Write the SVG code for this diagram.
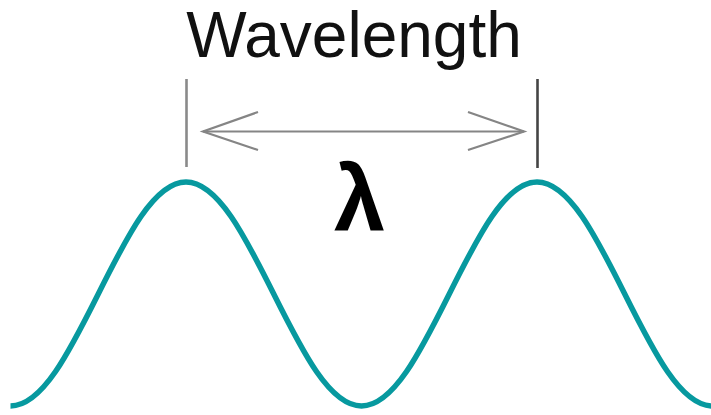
<svg xmlns="http://www.w3.org/2000/svg" width="711" height="415" viewBox="0 0 711 415">
<style>
.wave{fill:none;stroke:#07999f;stroke-width:5.5;stroke-linecap:butt}
.tick{stroke-width:2.6;fill:none}
.arr{stroke:#858585;stroke-width:2.2;fill:none}
.label{font-family:"Liberation Sans",Arial,sans-serif;font-size:64px;fill:#111}
.sym{font-family:"Liberation Sans",Arial,sans-serif;font-weight:bold;font-size:92px;fill:#000}
</style>
<rect width="711" height="415" fill="#fff"/>
<g id="wave">
<path class="wave" d="M 10.5 406 C 42.26 406, 69.63 351.38, 98.25 294 C 126.87 236.62, 154.24 182, 186 182 C 217.76 182, 245.13 236.62, 273.75 294 C 302.37 351.38, 329.74 406, 361.5 406 C 393.26 406, 420.63 351.38, 449.25 294 C 477.87 236.62, 505.24 182, 537 182 C 568.76 182, 596.13 236.62, 624.75 294 C 653.37 351.38, 680.74 406, 712.5 406"/>
</g>
<g id="connectors">
<line class="tick" x1="186.5" y1="79" x2="186.5" y2="167" stroke="#8a8a8a"/>
<line class="tick" x1="537.5" y1="79" x2="537.5" y2="168" stroke="#444"/>
<line class="arr" x1="203" y1="131.5" x2="524" y2="131.5"/>
<polyline class="arr" points="258,112 203,131.5 258,150" stroke="#6e6e6e"/>
<polyline class="arr" points="468,112 524,131.5 468,150" stroke="#6e6e6e"/>
</g>
<g id="title">
<text class="label" x="354" y="57" text-anchor="middle">Wavelength</text>
</g>
<g id="lambda">
<text class="sym" x="359.5" y="230" text-anchor="middle">λ</text>
</g>
</svg>
